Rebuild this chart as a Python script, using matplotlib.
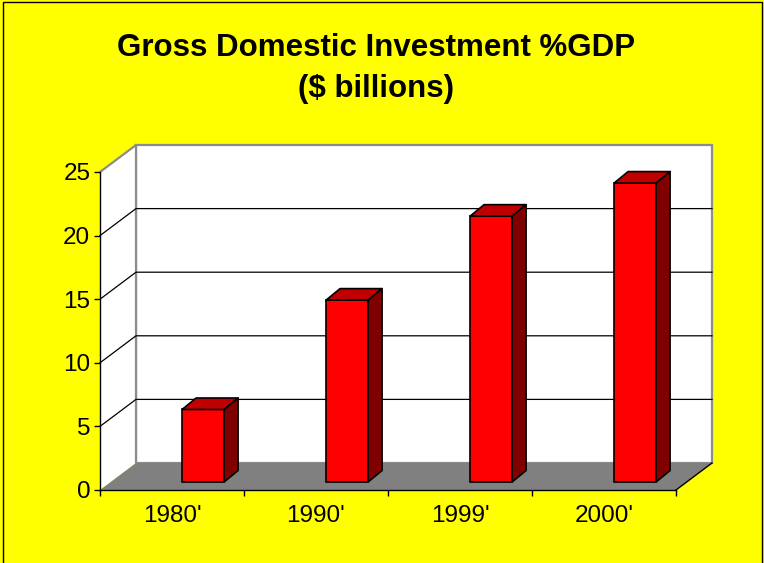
import matplotlib
matplotlib.use("Agg")
import matplotlib.pyplot as plt
from matplotlib.patches import Polygon, Rectangle

# ---- data ----
categories = ["1980'", "1990'", "1999'", "2000'"]
values = [5.7, 14.3, 20.9, 23.5]
y_ticks = [0, 5, 10, 15, 20, 25]
title_line1 = "Gross Domestic Investment %GDP"
title_line2 = "($ billions)"

# ---- styling ----
plt.rcParams['font.family'] = ['Liberation Sans', 'DejaVu Sans']
YELLOW = '#FFFF00'
RED_FRONT, RED_TOP, RED_SIDE = '#FF0000', '#C00000', '#800000'
FLOOR = '#808080'
WALL_EDGE = '#8C8C8C'
LABEL_SIZE = 17.5

W, H = 764, 563
fig = plt.figure(figsize=(W / 100, H / 100), dpi=100, facecolor=YELLOW)
ax = fig.add_axes([100 / W, 73 / H, 576 / W, 318 / H])
n = len(categories)
ymax = y_ticks[-1]
ax.set_xlim(0, n)
ax.set_ylim(0, ymax)
ax.patch.set_visible(False)

# depth of the pseudo-3D box, in data units (x: categories, y: values)
px_per_unit = 318 / ymax
DX = 36 / 144
DY = 27 / px_per_unit

# back wall
ax.add_patch(Polygon([(DX, DY), (n + DX, DY), (n + DX, ymax + DY), (DX, ymax + DY)],
                     closed=True, facecolor='white', edgecolor=WALL_EDGE,
                     lw=1.6, zorder=0.5, clip_on=False))
# left side wall
ax.add_patch(Polygon([(0, 0), (DX, DY), (DX, ymax + DY), (0, ymax)],
                     closed=True, facecolor='white', edgecolor='none',
                     zorder=0.6, clip_on=False))
ax.plot([0, DX], [ymax, ymax + DY], color=WALL_EDGE, lw=1.6, zorder=0.7,
        clip_on=False, solid_capstyle='butt')
ax.plot([DX, DX], [DY, ymax + DY], color=WALL_EDGE, lw=1.6, zorder=0.7,
        clip_on=False)

# gridlines on side and back walls
for v in y_ticks[1:-1]:
    ax.plot([0, DX, n + DX], [v, v + DY, v + DY], color='black', lw=0.9,
            zorder=0.8, clip_on=False)

# floor
ax.add_patch(Polygon([(0, 0), (n, 0), (n + DX, DY), (DX, DY)], closed=True,
                     facecolor=FLOOR, edgecolor='none', zorder=1, clip_on=False))
ax.plot([n, n + DX], [0, DY], color='black', lw=1.0, zorder=1.1, clip_on=False)

# bars: front face through ax.bar, top and side faces as polygons
bar_left = 0.57          # front-face left edge within each category
bar_w = 42 / 144
base = 8 / px_per_unit   # floor level at the bars' front depth
bdx = 14 / 144
bdy = 11.5 / px_per_unit
lefts = [i + bar_left for i in range(n)]
ax.bar(lefts, values, width=bar_w, bottom=base, align='edge',
       color=RED_FRONT, edgecolor='black', lw=1.2, zorder=3)
for xl, v in zip(lefts, values):
    top = base + v
    xr = xl + bar_w
    ax.add_patch(Polygon([(xl, top), (xr, top), (xr + bdx, top + bdy), (xl + bdx, top + bdy)],
                         closed=True, facecolor=RED_TOP, edgecolor='black',
                         lw=1.2, zorder=3, clip_on=False, joinstyle='round'))
    ax.add_patch(Polygon([(xr, base), (xr + bdx, base + bdy), (xr + bdx, top + bdy), (xr, top)],
                         closed=True, facecolor=RED_SIDE, edgecolor='black',
                         lw=1.2, zorder=3, clip_on=False, joinstyle='round'))

# axes lines and ticks
for side in ('top', 'right'):
    ax.spines[side].set_visible(False)
for side in ('left', 'bottom'):
    ax.spines[side].set_color('black')
    ax.spines[side].set_linewidth(1.0)
    ax.spines[side].set_zorder(2)

ax.set_yticks(y_ticks)
ax.set_yticklabels([str(t) for t in y_ticks])
ax.tick_params(axis='y', direction='out', length=4.5, width=1.0, pad=2.5,
               labelsize=LABEL_SIZE, colors='black')

ax.set_xticks(range(n + 1))
ax.set_xticklabels([''] * (n + 1))
ax.set_xticks([i + 0.5 for i in range(n)], minor=True)
ax.set_xticklabels(categories, minor=True)
ax.tick_params(axis='x', which='major', direction='out', length=4.5, width=1.0)
ax.tick_params(axis='x', which='minor', length=0, pad=11, labelsize=LABEL_SIZE)

# title
fig.text(376 / W, 1 - 56 / H, title_line1, ha='center', va='baseline',
         fontsize=22.5, fontweight='bold')
fig.text(376 / W, 1 - 97 / H, title_line2, ha='center', va='baseline',
         fontsize=22.5, fontweight='bold')

# chart-area border
fig.add_artist(Rectangle((3.5 / W, -0.05), (761.5 - 3.5) / W, 1.05 - 2 / H,
                         transform=fig.transFigure, fill=False,
                         edgecolor='black', lw=1.0, clip_on=False))

fig.savefig('out.png', dpi=100, facecolor=fig.get_facecolor())
